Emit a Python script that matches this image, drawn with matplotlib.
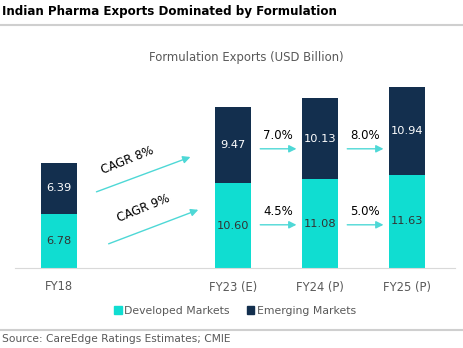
import matplotlib.pyplot as plt
from matplotlib.lines import Line2D
from matplotlib.patches import Patch

# data
years = ['FY18', 'FY23 (E)', 'FY24 (P)', 'FY25 (P)']
slots = [0, 2, 3, 4]
developed = [6.78, 10.60, 11.08, 11.63]
emerging = [6.39, 9.47, 10.13, 10.94]
growth_em = ['7.0%', '8.0%']
growth_dev = ['4.5%', '5.0%']

TEAL = '#10DDD1'
NAVY = '#132F4E'
ARROW = '#4ED8D6'
GRAY = '#595959'

plt.rcParams['font.family'] = ['DejaVu Sans']

fig = plt.figure(figsize=(4.64, 3.48), dpi=100)
W, H = 464, 348
ax = fig.add_axes([15 / W, (H - 268) / H, 440 / W, 188 / H])

ax.bar(slots, developed, width=0.41, color=TEAL, label='Developed Markets')
ax.bar(slots, emerging, width=0.41, bottom=developed, color=NAVY, label='Emerging Markets')

for x, d, e in zip(slots, developed, emerging):
    ax.text(x, d / 2, f'{d:.2f}', ha='center', va='center', fontsize=8.2, color='#333333')
    ax.text(x, d + e / 2, f'{e:.2f}', ha='center', va='center', fontsize=8.2, color='white')

ax.set_xlim(-0.506, 4.55)
ax.set_ylim(0, 23.5)
ax.set_xticks(slots)
ax.set_xticklabels(years, fontsize=8.3, color=GRAY)
ax.tick_params(axis='x', length=0, pad=9)
ax.set_yticks([])
for s in ['top', 'right', 'left']:
    ax.spines[s].set_visible(False)
ax.spines['bottom'].set_color('#d9d9d9')

# CAGR arrows FY18 -> FY23
arrow_kw = dict(arrowstyle='-|>', color=ARROW, lw=1.0, mutation_scale=11)
ax.annotate('', xy=(1.54, 14.0), xytext=(0.40, 9.4), arrowprops=arrow_kw)
ax.annotate('', xy=(1.63, 7.4), xytext=(0.54, 2.9), arrowprops=arrow_kw)
ax.text(0.79, 13.5, 'CAGR 8%', rotation=22, ha='center', va='center', fontsize=8.5, color='black')
ax.text(0.97, 7.5, 'CAGR 9%', rotation=22, ha='center', va='center', fontsize=8.5, color='black')

# yearly growth arrows
for i, (ge, gd) in enumerate(zip(growth_em, growth_dev)):
    x0 = slots[i + 1] + 0.28
    x1 = slots[i + 2] - 0.24
    xm = (x0 + x1) / 2
    ax.annotate('', xy=(x1, 14.9), xytext=(x0, 14.9), arrowprops=arrow_kw)
    ax.annotate('', xy=(x1, 5.4), xytext=(x0, 5.4), arrowprops=arrow_kw)
    ax.text(xm, 16.6, ge, ha='center', va='center', fontsize=8.5, color='black')
    ax.text(xm, 7.1, gd, ha='center', va='center', fontsize=8.5, color='black')

fig.text(2 / W, 1 - 11 / H, 'Indian Pharma Exports Dominated by Formulation',
         fontsize=8.6, fontweight='bold', ha='left', va='center')
fig.add_artist(Line2D([0, 1], [1 - 25 / H] * 2, color='#cfcfcf', lw=1.5))
fig.text(246 / W, 1 - 58 / H, 'Formulation Exports (USD Billion)',
         fontsize=8.4, color=GRAY, ha='center', va='center')

handles = [Patch(color=TEAL), Patch(color=NAVY)]
fig.legend(handles, ['Developed Markets', 'Emerging Markets'], loc='center',
           bbox_to_anchor=(235 / W, 1 - 311 / H), ncol=2, frameon=False,
           fontsize=7.8, handlelength=0.7, handleheight=0.7, handletextpad=0.2,
           columnspacing=1.6, labelcolor=GRAY)
fig.add_artist(Line2D([0, 1], [1 - 330 / H] * 2, color='#cfcfcf', lw=1.5))
fig.text(2 / W, 1 - 339 / H, 'Source: CareEdge Ratings Estimates; CMIE',
         fontsize=7.7, color=GRAY, ha='left', va='center')

fig.savefig('out.png', dpi=100)
